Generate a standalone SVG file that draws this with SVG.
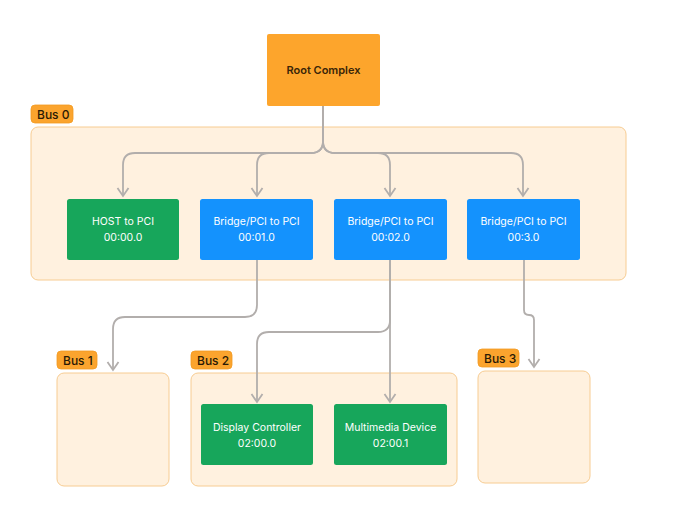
<svg xmlns="http://www.w3.org/2000/svg" width="680" height="514" viewBox="0 0 680 514">
<style>
.bus{fill:#FFF1DF;stroke:#F7CC92;stroke-width:1}
.tag{fill:#FBA42E;stroke:#F39A22;stroke-width:0.8}
.tagt{font-family:Inter,"Liberation Sans",sans-serif;font-size:12px;font-weight:500;fill:#2A1A05}
.green{fill:#17A65B}
.blue{fill:#1492FD}
.nt{font-family:Inter,"Liberation Sans",sans-serif;font-size:10.5px;fill:#FFFFFF;text-anchor:middle}
.rt{font-family:Inter,"Liberation Sans",sans-serif;font-size:11px;font-weight:600;fill:#3A2508;text-anchor:middle}
.con{fill:none;stroke:#B2AEAC;stroke-width:1.8}
</style>
<defs>
<marker id="ah" markerUnits="userSpaceOnUse" markerWidth="14" markerHeight="14" viewBox="0 0 14 14" refX="11" refY="7" orient="auto">
<path d="M3,1.5 L11,7 L3,12.5" fill="none" stroke="#B2AEAC" stroke-width="1.8"/>
</marker>
</defs>
<rect width="680" height="514" fill="#FFFFFF"/>

<g id="bus0">
<rect class="bus" x="31" y="127" width="595" height="153" rx="7"/>
<rect class="tag" x="31" y="105" width="42" height="18" rx="4"/>
<text class="tagt" x="37" y="118.5">Bus 0</text>
</g>
<g id="bus1">
<rect class="bus" x="57" y="373" width="112" height="113" rx="7"/>
<rect class="tag" x="57" y="351" width="40" height="18" rx="4"/>
<text class="tagt" x="63" y="364.5">Bus 1</text>
</g>
<g id="bus2">
<rect class="bus" x="191" y="373" width="266" height="113" rx="7"/>
<rect class="tag" x="191" y="351" width="41" height="18" rx="4"/>
<text class="tagt" x="197" y="364.5">Bus 2</text>
</g>
<g id="bus3">
<rect class="bus" x="478" y="371" width="112" height="112" rx="7"/>
<rect class="tag" x="478" y="349" width="41" height="18" rx="4"/>
<text class="tagt" x="484" y="362.5">Bus 3</text>
</g>

<g id="root">
<rect x="267" y="34" width="113" height="72" rx="2" fill="#FDA52C"/>
<text class="rt" x="323.5" y="74">Root Complex</text>
</g>

<g id="host">
<rect class="green" x="67" y="199" width="112" height="61" rx="2.5"/>
<text class="nt" x="123" y="225">HOST to PCI</text>
<text class="nt" x="123" y="241">00:00.0</text>
</g>
<g id="bridge1">
<rect class="blue" x="200" y="199" width="113" height="61" rx="2.5"/>
<text class="nt" x="256.5" y="225">Bridge/PCI to PCI</text>
<text class="nt" x="256.5" y="241">00:01.0</text>
</g>
<g id="bridge2">
<rect class="blue" x="334" y="199" width="113" height="61" rx="2.5"/>
<text class="nt" x="390.5" y="225">Bridge/PCI to PCI</text>
<text class="nt" x="390.5" y="241">00:02.0</text>
</g>
<g id="bridge3">
<rect class="blue" x="467" y="199" width="113" height="61" rx="2.5"/>
<text class="nt" x="523.5" y="225">Bridge/PCI to PCI</text>
<text class="nt" x="523.5" y="241">00:3.0</text>
</g>
<g id="display">
<rect class="green" x="201" y="404" width="112" height="61" rx="2.5"/>
<text class="nt" x="257" y="430.5">Display Controller</text>
<text class="nt" x="257" y="446.5">02:00.0</text>
</g>
<g id="multimedia">
<rect class="green" x="334" y="404" width="113" height="61" rx="2.5"/>
<text class="nt" x="390.5" y="430.5">Multimedia Device</text>
<text class="nt" x="390.5" y="446.5">02:00.1</text>
</g>

<g id="connectors">
<path class="con" marker-end="url(#ah)" d="M323,106 V141 Q323,153 311,153 H135 Q123,153 123,165 V196"/>
<path class="con" marker-end="url(#ah)" d="M323,106 V141 Q323,153 311,153 H269 Q257,153 257,165 V196"/>
<path class="con" marker-end="url(#ah)" d="M323,106 V141 Q323,153 335,153 H378 Q390,153 390,165 V196"/>
<path class="con" marker-end="url(#ah)" d="M323,106 V141 Q323,153 335,153 H511 Q523,153 523,165 V196"/>
<path class="con" marker-end="url(#ah)" d="M257,260 V305 Q257,317 245,317 H125 Q113,317 113,329 V370"/>
<path class="con" marker-end="url(#ah)" d="M390,260 V320 Q390,332 378,332 H269 Q257,332 257,344 V402"/>
<path class="con" marker-end="url(#ah)" d="M390,260 V402"/>
<path class="con" marker-end="url(#ah)" d="M524,260 V310 Q524,315 529,315 Q534,315 534,320 V367"/>
</g>
</svg>
